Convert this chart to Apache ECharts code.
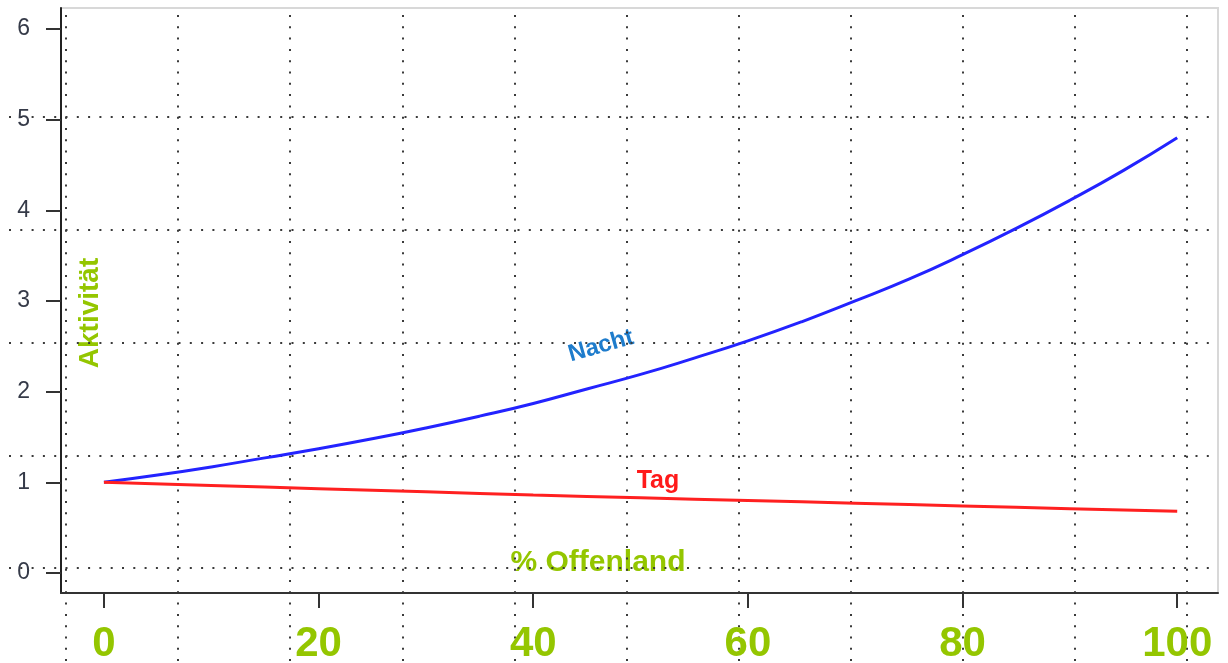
<!DOCTYPE html>
<html>
<head>
<meta charset="utf-8">
<script src="https://cdn.jsdelivr.net/npm/echarts@6/dist/echarts.min.js"></script>
<style>
  html, body { margin: 0; padding: 0; background: #fff; }
  #chart { width: 1228px; height: 663px; }
</style>
</head>
<body>
<div id="chart"></div>
<script>
// % Offenland (x) and activity values
const xNacht = [0, 5, 10, 15, 20, 25, 30, 35, 40, 45, 50, 55, 60, 65, 70, 75, 80, 85, 90, 95, 100];
const nacht = [1.00, 1.08, 1.17, 1.27, 1.37, 1.48, 1.60, 1.73, 1.87, 2.03, 2.19, 2.37, 2.56, 2.77, 3.00, 3.24, 3.51, 3.80, 4.11, 4.44, 4.80];
const xTag = [0, 10, 20, 30, 40, 50, 60, 70, 80, 90, 100];
const tag = [1.00, 0.965, 0.93, 0.895, 0.86, 0.83, 0.80, 0.77, 0.74, 0.71, 0.68];

const xTicks = [0, 20, 40, 60, 80, 100];
const yTicks = [0, 1, 2, 3, 4, 5, 6];

const green = "#94c600";
const font = "Liberation Sans";
const dotted = {
  color: "#3a3a3a",
  width: 2,
  type: [2, 9.3]
};

const chart = echarts.init(document.getElementById("chart"));
chart.setOption({
  animation: false,
  textStyle: { fontFamily: font },
  grid: [
    // main plot box
    {
      left: 61, right: 10, top: 8, bottom: 70,
      outerBoundsMode: "none", containLabel: false,
      show: true, borderColor: "#d8d8d8", borderWidth: 2
    },
    // vertical dotted overlay
    { left: 66, width: 1121, top: 15, bottom: 0, outerBoundsMode: "none" },
    // horizontal dotted overlay
    { left: 9, width: 1203, top: 117, height: 451, outerBoundsMode: "none" }
  ],
  xAxis: [
    {
      type: "value",
      gridIndex: 0,
      min: -4,
      max: 103.8,
      splitLine: { show: false },
      axisLine: { show: true, onZero: false, lineStyle: { color: "#333", width: 2 } },
      axisTick: { show: true, customValues: xTicks, length: 15, lineStyle: { color: "#333", width: 2 } },
      axisLabel: {
        customValues: xTicks,
        color: green,
        fontSize: 42,
        fontWeight: "bold",
        margin: 30
      }
    },
    {
      type: "value",
      gridIndex: 1,
      min: 0,
      max: 10,
      interval: 1,
      axisLine: { show: false },
      axisTick: { show: false },
      axisLabel: { show: false },
      splitLine: { show: true, lineStyle: dotted }
    },
    {
      type: "value",
      gridIndex: 2,
      min: 0,
      max: 1,
      show: false,
      splitLine: { show: false }
    }
  ],
  yAxis: [
    {
      type: "value",
      gridIndex: 0,
      min: -0.22,
      max: 6.23,
      splitLine: { show: false },
      axisLine: { show: true, onZero: false, lineStyle: { color: "#222", width: 2 } },
      axisTick: { show: true, customValues: yTicks, length: 15, lineStyle: { color: "#333", width: 2 } },
      axisLabel: {
        customValues: yTicks,
        color: "#353a48",
        fontSize: 23,
        margin: 31
      }
    },
    {
      type: "value",
      gridIndex: 1,
      min: 0,
      max: 1,
      show: false,
      splitLine: { show: false }
    },
    {
      type: "value",
      gridIndex: 2,
      min: 0,
      max: 4,
      interval: 1,
      axisLine: { show: false },
      axisTick: { show: false },
      axisLabel: { show: false },
      splitLine: { show: true, lineStyle: dotted }
    }
  ],
  series: [
    {
      name: "Nacht",
      type: "line",
      xAxisIndex: 0,
      yAxisIndex: 0,
      smooth: true,
      showSymbol: false,
      lineStyle: { color: "#2323ff", width: 3 },
      data: xNacht.map((x, i) => [x, nacht[i]])
    },
    {
      name: "Tag",
      type: "line",
      xAxisIndex: 0,
      yAxisIndex: 0,
      smooth: true,
      showSymbol: false,
      lineStyle: { color: "#ff2020", width: 3 },
      data: xTag.map((x, i) => [x, tag[i]])
    }
  ],
  graphic: [
    {
      type: "text",
      x: 598, y: 563,
      style: {
        text: "% Offenland", fill: green, font: "bold 30px " + font,
        align: "center", verticalAlign: "middle"
      }
    },
    {
      type: "text",
      x: 90, y: 313,
      rotation: Math.PI / 2,
      style: {
        text: "Aktivität", fill: green, font: "bold 28px " + font,
        align: "center", verticalAlign: "middle"
      }
    },
    {
      type: "text",
      x: 601, y: 346,
      rotation: 16 * Math.PI / 180,
      style: {
        text: "Nacht", fill: "#1e7ccc", font: "bold 24px " + font,
        align: "center", verticalAlign: "middle"
      }
    },
    {
      type: "text",
      x: 658, y: 481,
      style: {
        text: "Tag", fill: "#ff1a1a", font: "bold 25px " + font,
        align: "center", verticalAlign: "middle"
      }
    }
  ]
});
</script>
</body>
</html>
